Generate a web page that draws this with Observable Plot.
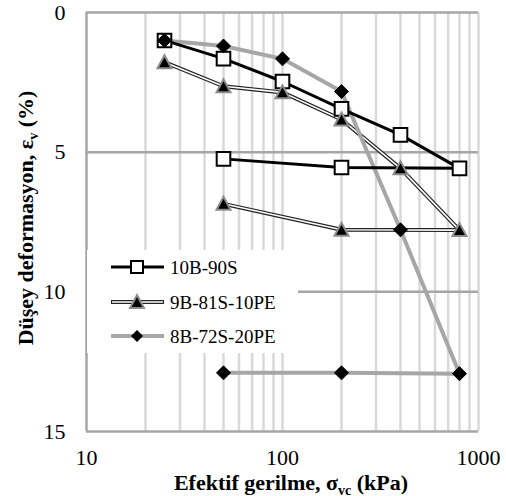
<!DOCTYPE html>
<html>
<head>
<meta charset="utf-8">
<script src="https://cdn.jsdelivr.net/npm/d3@7"></script>
<script src="https://cdn.jsdelivr.net/npm/@observablehq/plot@0.6"></script>
<style>
  html, body { margin: 0; padding: 0; background: #fff; }
  #wrap { position: relative; width: 506px; height: 496px; font-family: 'Liberation Serif', 'DejaVu Serif', serif; }
  #wrap svg, #wrap svg text { font-family: 'Liberation Serif', 'DejaVu Serif', serif !important; }
  #legend { position: absolute; left: 87px; top: 250px; width: 211px; height: 103px; background: #fff; }
</style>
</head>
<body>
<div id="wrap"></div>
<script>
// ---- data ----
const stress = [25, 50, 100, 200, 400, 800, 200, 50];
const series10B = [1.0, 1.65, 2.47, 3.45, 4.38, 5.58, 5.55, 5.24];
const series9B  = [1.78, 2.64, 2.86, 3.83, 5.58, 7.79, 7.78, 6.85];
const series8B  = [1.0, 1.2, 1.66, 2.83, 7.78, 12.93, 12.9, 12.9];
const seriesNames = ["10B-90S", "9B-81S-10PE", "8B-72S-20PE"];
const xTicks = [10, 100, 1000];
const yTicks = [0, 5, 10, 15];
const xMinorGrid = [20, 30, 40, 50, 60, 70, 80, 90, 100, 200, 300, 400, 500, 600, 700, 800, 900, 1000];
const yMajorGrid = [0, 5, 10];

const toRows = vals => stress.map((x, i) => ({x, y: vals[i]}));
const d10 = toRows(series10B), d9 = toRows(series9B), d8 = toRows(series8B);

const FONT = "'Liberation Serif', 'DejaVu Serif', serif";

// custom marker shapes (size = pi r^2)
const rOf = s => Math.sqrt(s / Math.PI);
const sqSym = {draw(c, s) { const h = rOf(s); c.moveTo(-h, -h); c.lineTo(h, -h); c.lineTo(h, h); c.lineTo(-h, h); c.closePath(); }};
const triSym = {draw(c, s) { const h = rOf(s); c.moveTo(0, -h); c.lineTo(h, h * 0.85); c.lineTo(-h, h * 0.85); c.closePath(); }};
const diaSym = {draw(c, s) { const h = rOf(s); c.moveTo(0, -h); c.lineTo(h, 0); c.lineTo(0, h); c.lineTo(-h, 0); c.closePath(); }};

const grey = "#a6a6a6", light = "#d9d9d9";

const svg = Plot.plot({
  width: 506, height: 496,
  marginLeft: 86, marginRight: 28, marginTop: 12, marginBottom: 65,
  style: `font-family: ${FONT}; font-size: 22px; color: #000; background: #fff;`,
  x: {type: "log", domain: [10, 1000], ticks: xTicks, tickFormat: d => String(d), tickSize: 0, tickPadding: 18, label: null},
  y: {domain: [0, 15], reverse: true, ticks: yTicks, tickFormat: d => String(d), tickSize: 0, tickPadding: 21, label: null},
  marks: [
    Plot.ruleX(xMinorGrid, {stroke: light, strokeWidth: 2.5}),
    Plot.ruleY(yMajorGrid, {stroke: grey, strokeWidth: 2.5}),
    Plot.ruleX([10], {stroke: grey, strokeWidth: 2.5}),
    Plot.ruleY([15], {stroke: grey, strokeWidth: 2.5}),
    // 9B double line
    Plot.line(d9, {x: "x", y: "y", stroke: "#222", strokeWidth: 4}),
    Plot.line(d9, {x: "x", y: "y", stroke: "#fff", strokeWidth: 1.6}),
    Plot.line(d8, {x: "x", y: "y", stroke: grey, strokeWidth: 4}),
    Plot.line(d10, {x: "x", y: "y", stroke: "#000", strokeWidth: 3}),
    Plot.dot(d10, {x: "x", y: "y", symbol: sqSym, r: 6.8, fill: "#fff", stroke: "#000", strokeWidth: 2}),
    Plot.dot(d9, {x: "x", y: "y", symbol: triSym, r: 7, fill: "#000", stroke: "#8c8c8c", strokeWidth: 2}),
    Plot.dot(d8, {x: "x", y: "y", symbol: diaSym, r: 7, fill: "#000", stroke: "#000", strokeWidth: 1})
  ]
});

const s = d3.select(svg).attr("font-family", FONT).attr("font-size", 22);
// x title
const xt = s.append("text").attr("x", 291).attr("y", 489.5).attr("text-anchor", "middle")
  .attr("font-weight", "bold").attr("font-size", 22).attr("fill", "#000").attr("font-family", FONT);
xt.append("tspan").text("Efektif gerilme, σ");
xt.append("tspan").attr("font-size", 14).attr("dy", 5).text("vc");
xt.append("tspan").attr("dy", -5).text(" (kPa)");
// y title
const yt = s.append("text").attr("transform", "translate(33,218) rotate(-90)").attr("text-anchor", "middle")
  .attr("font-weight", "bold").attr("font-size", 22).attr("fill", "#000").attr("font-family", FONT);
yt.append("tspan").text("Düşey deformasyon, ε");
yt.append("tspan").attr("font-size", 14).attr("dy", 5).text("v");
yt.append("tspan").attr("dy", -5).text(" (%)");

const wrap = document.getElementById("wrap");
wrap.appendChild(svg);

// legend (HTML overlay with white box)
const leg = document.createElement("div");
leg.id = "legend";
const ls = d3.select(leg).append("svg").attr("width", 211).attr("height", 103);
const rowsY = [17, 52, 86];
const cx = 50;
// 10B
ls.append("line").attr("x1", 24).attr("x2", 77).attr("y1", rowsY[0]).attr("y2", rowsY[0]).attr("stroke", "#000").attr("stroke-width", 3);
ls.append("rect").attr("x", cx - 6).attr("y", rowsY[0] - 6).attr("width", 12).attr("height", 12).attr("fill", "#fff").attr("stroke", "#000").attr("stroke-width", 2);
// 9B
ls.append("line").attr("x1", 24).attr("x2", 77).attr("y1", rowsY[1]).attr("y2", rowsY[1]).attr("stroke", "#222").attr("stroke-width", 4);
ls.append("line").attr("x1", 25).attr("x2", 76).attr("y1", rowsY[1]).attr("y2", rowsY[1]).attr("stroke", "#fff").attr("stroke-width", 1.6);
ls.append("path").attr("d", `M${cx},${rowsY[1]-7}L${cx+7},${rowsY[1]+6}L${cx-7},${rowsY[1]+6}Z`).attr("fill", "#000").attr("stroke", "#8c8c8c").attr("stroke-width", 2);
// 8B
ls.append("line").attr("x1", 24).attr("x2", 77).attr("y1", rowsY[2]).attr("y2", rowsY[2]).attr("stroke", grey).attr("stroke-width", 4);
ls.append("path").attr("d", `M${cx},${rowsY[2]-6}L${cx+6},${rowsY[2]}L${cx},${rowsY[2]+6}L${cx-6},${rowsY[2]}Z`).attr("fill", "#000");
seriesNames.forEach((n, i) => {
  ls.append("text").attr("x", 83).attr("y", rowsY[i]).attr("dy", "0.35em").attr("font-size", 19)
    .attr("font-family", FONT).attr("fill", "#000").text(n);
});
wrap.appendChild(leg);
</script>
</body>
</html>
